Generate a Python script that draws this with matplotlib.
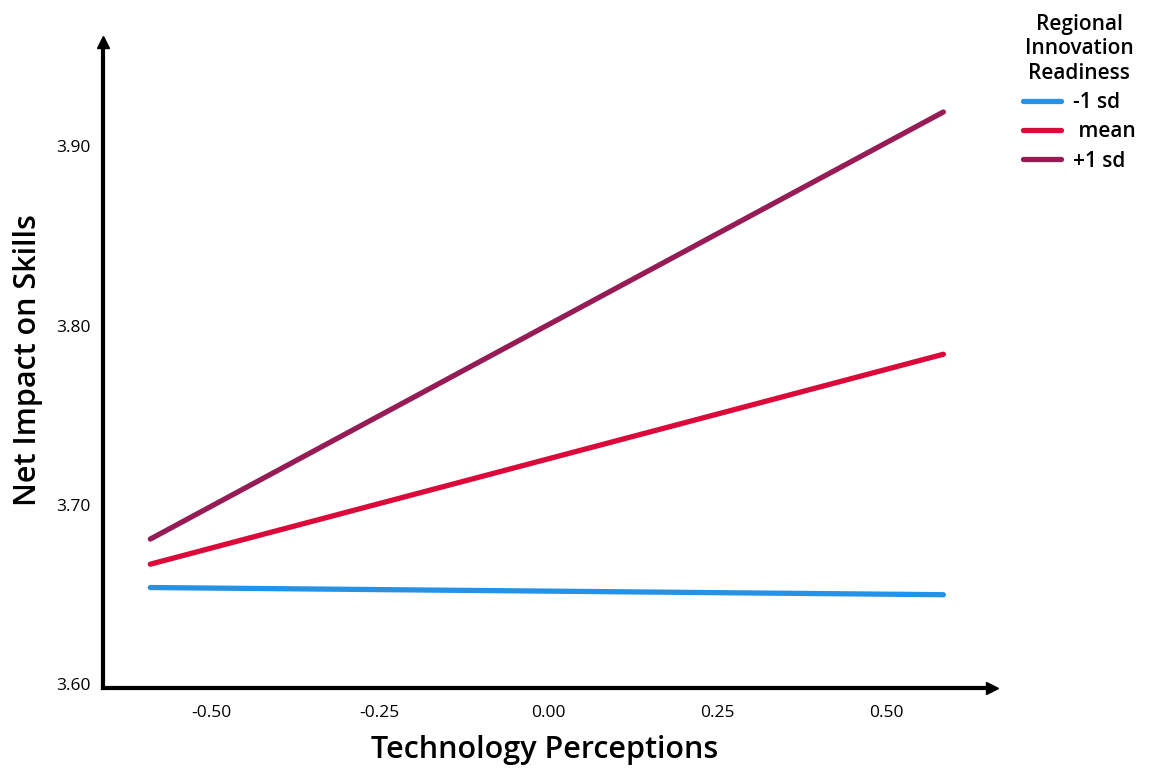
import matplotlib.pyplot as plt

plt.rcParams['font.family'] = ['Open Sans', 'DejaVu Sans']

# simple slopes: x endpoints and predicted values per moderator level
x_ends = [-0.59, 0.585]
low_sd = [3.654, 3.650]
mean_vals = [3.667, 3.784]
high_sd = [3.681, 3.919]
labels = ["-1 sd", " mean", "+1 sd"]
colors = ["#2592E6", "#DC0A3A", "#961C55"]

x_ticks = [-0.50, -0.25, 0.00, 0.25, 0.50]
y_ticks = [3.60, 3.70, 3.80, 3.90]

fig = plt.figure(figsize=(11.54, 7.69), dpi=100)
ax = fig.add_axes([0.0893, 0.1053, 0.7703, 0.8401])

for vals, lab, c in zip([low_sd, mean_vals, high_sd], labels, colors):
    ax.plot(x_ends, vals, color=c, lw=3.8, label=lab, solid_capstyle='round')

ax.set_xlim(-0.66, 0.657)
ax.set_ylim(3.598, 3.958)
ax.set_xticks(x_ticks)
ax.set_xticklabels([f"{v:.2f}" for v in x_ticks])
ax.set_yticks(y_ticks)
ax.set_yticklabels([f"{v:.2f}" for v in y_ticks])
ax.tick_params(length=0, labelsize=12.5, pad=12)
ax.tick_params(axis='y', pad=9)
for t in ax.get_xticklabels() + ax.get_yticklabels():
    t.set_fontweight('medium')

for s in ['top', 'right']:
    ax.spines[s].set_visible(False)
for s in ['left', 'bottom']:
    ax.spines[s].set_linewidth(3)
# arrow heads on axes
ax.plot(1, 0, ">k", ms=8, transform=ax.transAxes, clip_on=False)
ax.plot(0, 1, "^k", ms=8, transform=ax.transAxes, clip_on=False)

ax.set_xlabel("Technology Perceptions", fontsize=22, fontweight='semibold')
ax.set_ylabel("Net Impact on Skills", fontsize=22, fontweight='semibold')
ax.xaxis.set_label_coords(0.497, -0.073)
ax.yaxis.set_label_coords(-0.068, 0.508)

leg = fig.legend(loc='upper left', bbox_to_anchor=(0.8775, 0.995), frameon=False,
                 title="Regional\nInnovation\nReadiness", fontsize=15,
                 title_fontsize=15, handlelength=1.8, handletextpad=0.6,
                 labelspacing=0.4, borderpad=0.0)
leg.get_title().set_multialignment('center')
leg.get_title().set_fontweight('semibold')
for t in leg.get_texts():
    t.set_fontweight('semibold')

fig.savefig("out.png", dpi=100)
